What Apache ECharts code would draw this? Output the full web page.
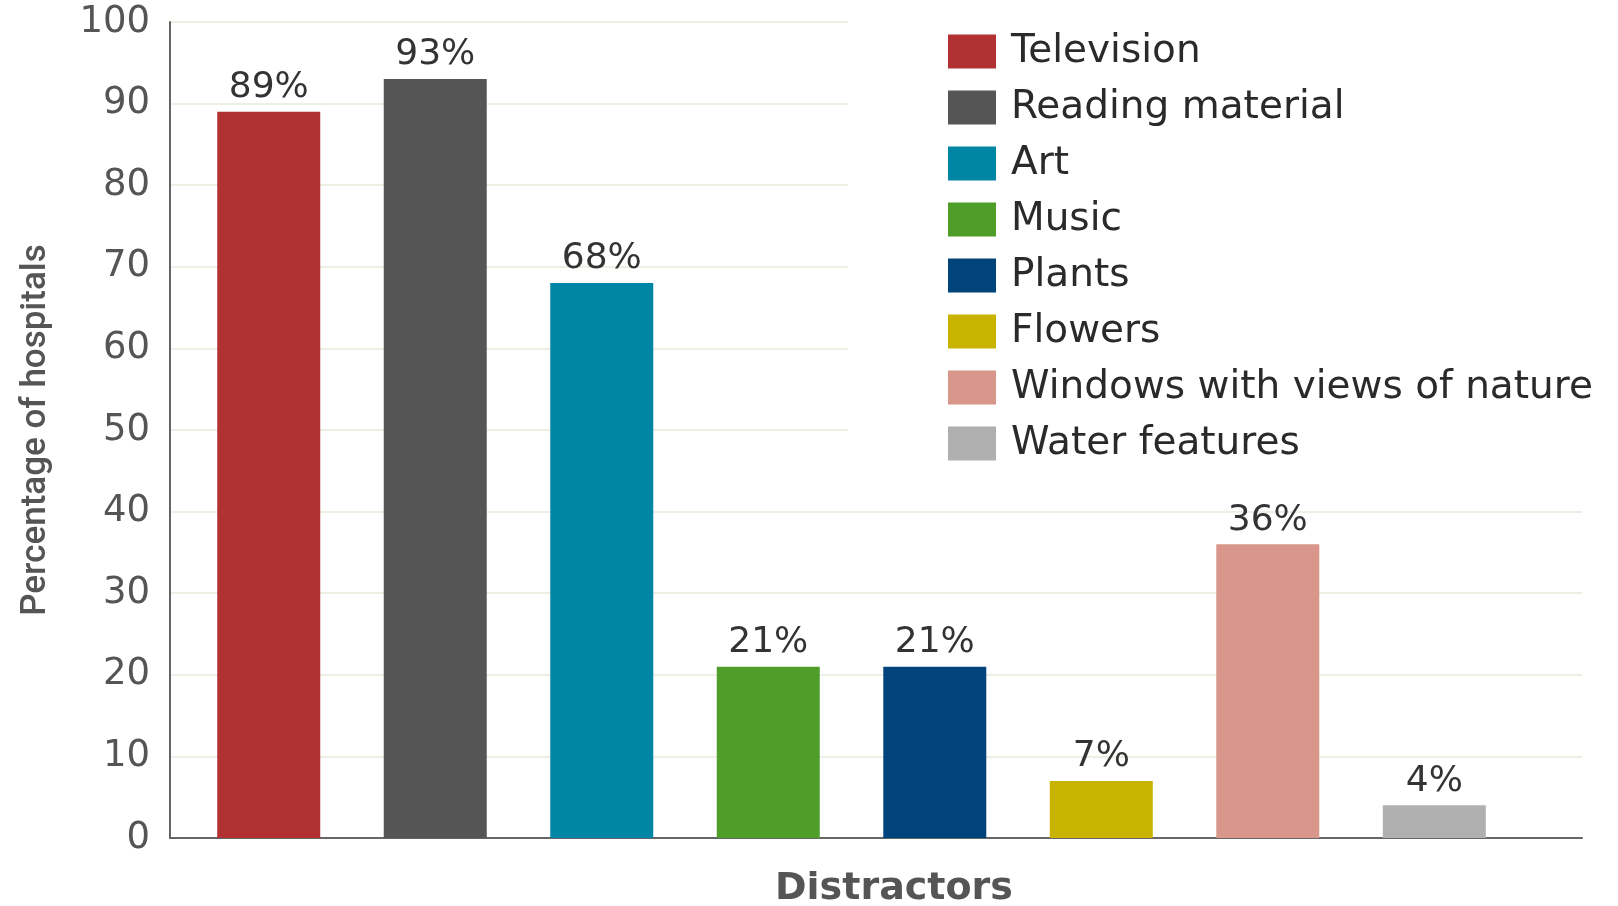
<!DOCTYPE html>
<html>
<head>
<meta charset="utf-8">
<script src="https://cdn.jsdelivr.net/npm/echarts@6/dist/echarts.min.js"></script>
<style>
  html, body { margin: 0; padding: 0; background: #ffffff; }
  #chart { width: 1618px; height: 906px; }
</style>
</head>
<body>
<div id="chart"></div>
<script>
const categories = ['Television', 'Reading material', 'Art', 'Music', 'Plants', 'Flowers', 'Windows with views of nature', 'Water features'];
const values = [89, 93, 68, 21, 21, 7, 36, 4];
const colors = ['#b23132', '#555555', '#0086a5', '#4f9e2a', '#00447b', '#c8b400', '#d9968a', '#b0b0b0'];
const yTicks = [0, 10, 20, 30, 40, 50, 60, 70, 80, 90, 100];

const chart = echarts.init(document.getElementById('chart'));

const series = categories.map((name, i) => ({
  name: name,
  type: 'bar',
  stack: 'all',
  barWidth: 103,
  data: [[i, values[i]]],
  itemStyle: { color: colors[i] },
  label: {
    show: true,
    position: 'top',
    distance: 6,
    fontFamily: 'DejaVu Sans',
    fontSize: 36,
    color: '#333333',
    formatter: p => p.value[1] + '%'
  }
}));

chart.setOption({
  animation: false,
  backgroundColor: '#ffffff',
  grid: { left: 170, right: 36, top: 22, bottom: 68, containLabel: false, outerBoundsMode: 'none' },
  xAxis: {
    type: 'value',
    min: -0.593,
    max: 7.887,
    axisLine: { show: true, onZero: false, lineStyle: { color: '#666666', width: 2 } },
    axisTick: { show: false },
    axisLabel: { show: false },
    splitLine: { show: false },
    name: 'Distractors',
    nameLocation: 'middle',
    nameGap: 32,
    nameTextStyle: {
      fontFamily: 'DejaVu Sans',
      fontWeight: 'bold',
      fontSize: 38,
      color: '#555555',
      padding: [0, 0, 0, 36]
    }
  },
  yAxis: {
    type: 'value',
    min: yTicks[0],
    max: yTicks[yTicks.length - 1],
    interval: 10,
    axisLine: { show: true, onZero: false, lineStyle: { color: '#666666', width: 2 } },
    axisTick: { show: false },
    axisLabel: {
      fontFamily: 'DejaVu Sans',
      fontSize: 37,
      color: '#555555',
      margin: 20
    },
    splitLine: { show: true, lineStyle: { color: '#efeee4', width: 2 } },
    name: 'Percentage of hospitals',
    nameLocation: 'middle',
    nameGap: 116,
    nameTextStyle: {
      fontFamily: 'Roboto',
      fontWeight: 500,
      fontSize: 35,
      color: '#555555'
    }
  },
  legend: {
    data: categories,
    orient: 'vertical',
    left: 848,
    top: 0,
    padding: [32, 40, 36, 100],
    backgroundColor: '#ffffff',
    icon: 'rect',
    itemWidth: 48,
    itemHeight: 34,
    itemGap: 17,
    selectedMode: false,
    textStyle: {
      fontFamily: 'DejaVu Sans',
      fontSize: 39,
      lineHeight: 39,
      color: '#2a2a2a',
      padding: [0, 0, 0, 10]
    }
  },
  series: series
});
</script>
</body>
</html>
